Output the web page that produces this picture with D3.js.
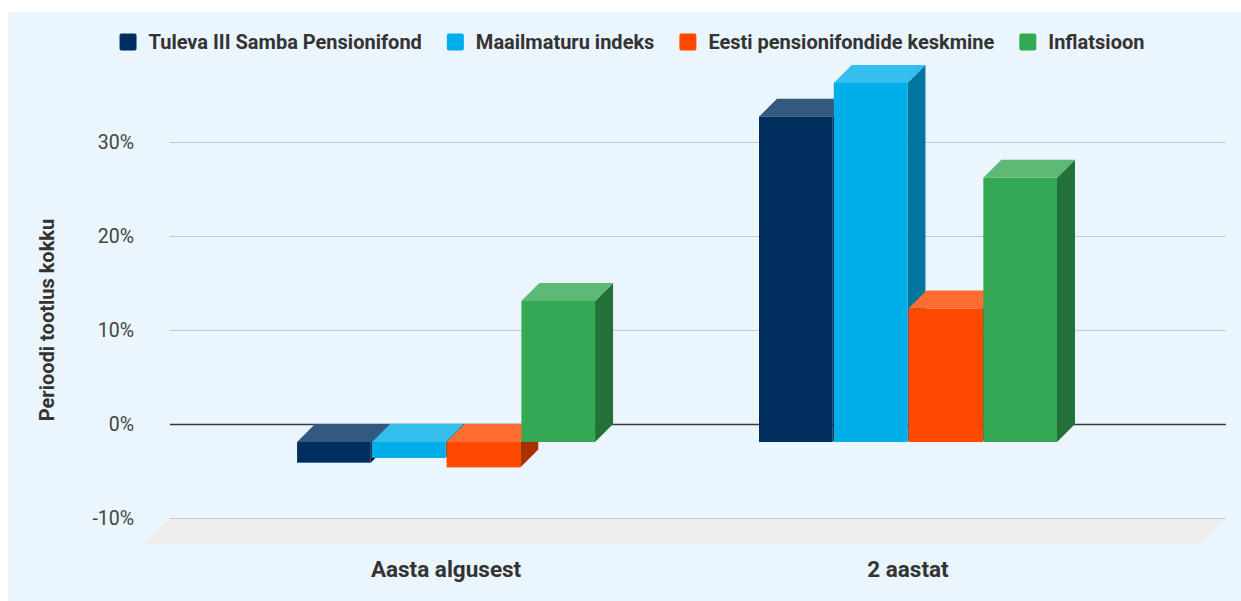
<!DOCTYPE html>
<html>
<head>
<meta charset="utf-8">
<script src="https://cdn.jsdelivr.net/npm/d3@7"></script>
<style>
  body { margin: 0; background: #fff; }
  text { font-family: Roboto, "Noto Sans", sans-serif; }
</style>
</head>
<body>
<div class="svg-mount"></div>
<script>
// data
const categories = ["Aasta algusest", "2 aastat"];
const seriesNames = [
  "Tuleva III Samba Pensionifond",
  "Maailmaturu indeks",
  "Eesti pensionifondide keskmine",
  "Inflatsioon",
];
const tuleva = [-2.2, 34.6];
const maailm = [-1.7, 38.2];
const eesti = [-2.7, 14.2];
const inflatsioon = [15.0, 28.1];
const tickValues = [-10, 0, 10, 20, 30];

const seriesValues = [tuleva, maailm, eesti, inflatsioon];
const colors = ["#002f5f", "#00aeea", "#ff4800", "#34a853"];

const actual_width = 1241;
const actual_height = 601;
const plot = { left: 170, right: 1226, top: 142, bottom: 518 };
const depth = 18; // oblique offset of bars
const floorDepth = 26;

const svg = d3
  .select(".svg-mount")
  .append("svg")
  .attr("width", actual_width)
  .attr("height", actual_height);

svg
  .append("rect")
  .attr("x", 8)
  .attr("y", 12)
  .attr("width", actual_width - 8)
  .attr("height", actual_height - 12)
  .attr("fill", "#ebf5fd");

// scales (back plane coordinates)
const y = d3.scaleLinear().domain([-10, 30]).range([plot.bottom, plot.top]);
const x = d3
  .scalePoint()
  .domain(categories)
  .range([plot.left, plot.right])
  .padding(0.643)
  .align(0.495);
const xs = d3
  .scaleBand()
  .domain(seriesNames)
  .range([-149, 149])
  .paddingInner(0.015);

// floor
svg
  .append("path")
  .attr(
    "d",
    d3.line()([
      [plot.left, y(-10)],
      [plot.right, y(-10)],
      [plot.right - floorDepth + 1, y(-10) + floorDepth],
      [plot.left - floorDepth + 1, y(-10) + floorDepth],
    ])
  )
  .attr("fill", "#eeeeee");

// grid
const grid = svg.append("g").attr("class", "grid");
grid
  .selectAll("line")
  .data(tickValues)
  .join("line")
  .attr("x1", plot.left)
  .attr("x2", plot.right)
  .attr("y1", (d) => y(d) + 0.5)
  .attr("y2", (d) => y(d) + 0.5)
  .attr("stroke", (d) => (d === 0 ? "#3a3a3a" : "#c2c8cd"))
  .attr("stroke-width", (d) => (d === 0 ? 1.4 : 1.2));

// y axis labels
const yAxis = d3
  .axisLeft(y)
  .tickValues(tickValues)
  .tickSize(0)
  .tickPadding(0)
  .tickFormat((d) => d + "%");
const ya = svg
  .append("g")
  .attr("transform", "translate(134,0)")
  .call(yAxis);
ya.select(".domain").remove();
ya.selectAll("text")
  .attr("font-size", 19.5)
  .attr("fill", "#444")
  .attr("font-family", "Roboto");

svg
  .append("text")
  .attr("transform", "translate(54,320) rotate(-90)")
  .attr("text-anchor", "middle")
  .attr("font-size", 20)
  .attr("font-weight", "bold")
  .attr("fill", "#333")
  .text("Perioodi tootlus kokku");

// 3D bars
function shade(c, k) {
  return d3.interpolateRgb(c, "#000")(k);
}
function tint(c, k) {
  return d3.interpolateRgb(c, "#fff")(k);
}

const bars = [];
categories.forEach((cat, ci) => {
  seriesNames.forEach((s, si) => {
    bars.push({ cat, s, si, v: seriesValues[si][ci] });
  });
});

const barG = svg
  .append("g")
  .selectAll("g.bar")
  .data(bars)
  .join("g")
  .attr("class", "bar");

function geom(d) {
  const bx = x(d.cat) + xs(d.s); // back plane left
  const w = xs.bandwidth();
  const yTop = Math.min(y(d.v), y(0));
  const yBot = Math.max(y(d.v), y(0));
  return { bx, w, yTop, yBot };
}

barG
  .append("path")
  .attr("d", (d) => {
    const g = geom(d);
    return d3.line()([
      [g.bx + g.w - depth, g.yTop + depth],
      [g.bx + g.w, g.yTop],
      [g.bx + g.w, g.yBot],
      [g.bx + g.w - depth, g.yBot + depth],
    ]);
  })
  .attr("fill", (d) => shade(colors[d.si], 0.33));

barG
  .append("path")
  .attr("d", (d) => {
    const g = geom(d);
    return d3.line()([
      [g.bx - depth, g.yTop + depth],
      [g.bx + g.w - depth, g.yTop + depth],
      [g.bx + g.w, g.yTop],
      [g.bx, g.yTop],
    ]);
  })
  .attr("fill", (d) => tint(colors[d.si], 0.2));

barG
  .append("rect")
  .attr("x", (d) => geom(d).bx - depth)
  .attr("y", (d) => geom(d).yTop + depth)
  .attr("width", xs.bandwidth())
  .attr("height", (d) => geom(d).yBot - geom(d).yTop)
  .attr("fill", (d) => colors[d.si]);

// category labels
svg
  .append("g")
  .selectAll("text")
  .data(categories)
  .join("text")
  .attr("x", (d) => x(d) - depth)
  .attr("y", 577)
  .attr("text-anchor", "middle")
  .attr("font-size", 22.5)
  .attr("font-weight", "bold")
  .attr("fill", "#333")
  .text((d) => d);

// legend
const legend = svg.append("g").attr("class", "legend");
const items = legend
  .selectAll("g")
  .data(seriesNames)
  .join("g");
items
  .append("rect")
  .attr("width", 17)
  .attr("height", 17)
  .attr("rx", 2)
  .attr("y", 33.5)
  .attr("fill", (d, i) => colors[i]);
items
  .append("text")
  .attr("x", 29)
  .attr("y", 49)
  .attr("font-size", 20)
  .attr("font-weight", "bold")
  .attr("fill", "#333")
  .text((d) => d);
let lx = 0;
const offsets = [];
items.each(function () {
  offsets.push(lx);
  lx += 29 + d3.select(this).select("text").node().getComputedTextLength() + 25;
});
const total = lx - 25;
const startX = 632 - total / 2;
items.attr("transform", (d, i) => `translate(${startX + offsets[i]},0)`);
</script>
</body>
</html>
